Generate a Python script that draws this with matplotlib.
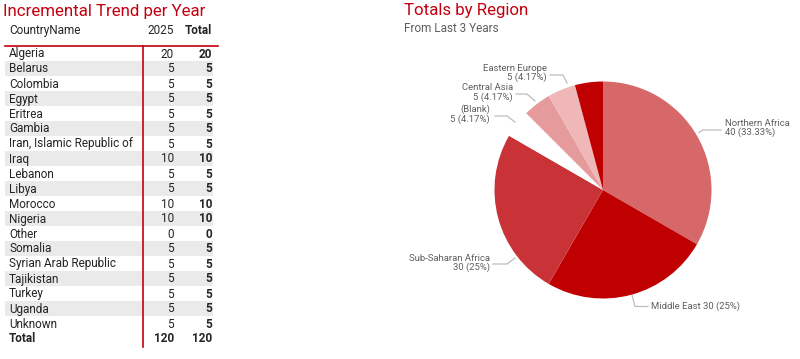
import matplotlib
matplotlib.use("Agg")
import matplotlib.pyplot as plt
from matplotlib import font_manager as fm
import numpy as np

# ---------------- data ----------------
countries = ["Algeria", "Belarus", "Colombia", "Egypt", "Eritrea", "Gambia",
             "Iran, Islamic Republic of", "Iraq", "Lebanon", "Libya", "Morocco",
             "Nigeria", "Other", "Somalia", "Syrian Arab Republic", "Tajikistan",
             "Turkey", "Uganda", "Unknown"]
values_2025 = [20, 5, 5, 5, 5, 5, 5, 10, 5, 5, 10, 10, 0, 5, 5, 5, 5, 5, 5]
totals = [20, 5, 5, 5, 5, 5, 5, 10, 5, 5, 10, 10, 0, 5, 5, 5, 5, 5, 5]
year_label = "2025"

regions = ["Northern Africa", "Middle East", "Sub-Saharan Africa", "(Blank)",
           "Central Asia", "Eastern Europe", "Other"]
region_values = [40, 30, 30, 5, 5, 5, 5]
region_colors = ["#D66869", "#C00000", "#C93236", "#FFFFFF", "#E59A9C", "#F0B7B9", "#C00000"]

# ---------------- fonts ----------------
def pick(cands):
    for c in cands:
        try:
            fm.findfont(fm.FontProperties(family=c), fallback_to_default=False)
            return c
        except Exception:
            pass
    return "DejaVu Sans"

FONT = pick(["DejaVu Sans Condensed", "Liberation Sans Narrow", "Roboto", "DejaVu Sans"])
plt.rcParams["font.family"] = [FONT, "DejaVu Sans"]

W, H = 800, 359
fig = plt.figure(figsize=(W / 100, H / 100), dpi=100)
ax = fig.add_axes([0, 0, 1, 1])
ax.set_xlim(0, W)
ax.set_ylim(H, 0)
ax.axis("off")

RED = "#C4000F"
TXT = "#252423"
GRAY = "#605E5C"
FS = 8.5

# ---------------- table ----------------
ax.text(3, 16, "Incremental Trend per Year", color=RED, fontsize=12.2, va="baseline", ha="left")
ax.text(9, 34, "CountryName", color=TXT, fontsize=FS, va="baseline")
ax.text(174, 34, year_label, color=TXT, fontsize=FS, va="baseline", ha="right")
ax.text(212, 34, "Total", color=TXT, fontsize=FS, va="baseline", ha="right", fontweight="bold")

row0, rh = 53.5, 15
for i, (c, v, t) in enumerate(zip(countries, values_2025, totals)):
    y = row0 + i * rh
    if i % 2 == 1:
        ax.add_patch(plt.Rectangle((5, y - rh / 2), 208, rh, color="#EAEAEA", lw=0, zorder=0))
    ax.text(9, y + 4, c, color=TXT, fontsize=FS, va="baseline")
    ax.text(174, y + 4, f"{v}", color=TXT, fontsize=FS, va="baseline", ha="right")
    ax.text(212, y + 4, f"{t}", color=TXT, fontsize=FS, va="baseline", ha="right", fontweight="bold")

yt = row0 + len(countries) * rh
ax.text(9, yt + 4, "Total", color=TXT, fontsize=FS, va="baseline", fontweight="bold")
ax.text(174, yt + 4, f"{sum(values_2025)}", color=TXT, fontsize=FS, va="baseline", ha="right", fontweight="bold")
ax.text(212, yt + 4, f"{sum(totals)}", color=TXT, fontsize=FS, va="baseline", ha="right", fontweight="bold")

ax.plot([5, 218], [46, 46], color=RED, lw=1.2)
ax.plot([142.5, 142.5], [46, 347], color=RED, lw=1.2)

# ---------------- pie ----------------
ax.text(404, 15, "Totals by Region", color=RED, fontsize=12.2, va="baseline", ha="left")
ax.text(404, 32.5, "From Last 3 Years", color=GRAY, fontsize=8.5, va="baseline", ha="left")

cx, cy, r = 603, 190, 108.5
pad = 130
pax = fig.add_axes([(cx - pad) / W, (H - cy - pad) / H, 2 * pad / W, 2 * pad / H])
pax.pie(region_values, colors=region_colors, startangle=90, counterclock=False,
        radius=1.0, wedgeprops=dict(linewidth=0))
pax.set_xlim(-pad / r, pad / r)
pax.set_ylim(-pad / r, pad / r)
pax.axis("off")

total = sum(region_values)
# label layout: (text x, text y, ha, leader line points)
layout = {
    "Northern Africa": (725, 128, "left", [(699, 132.5), (703, 130), (721, 130)]),
    "Middle East": (651, 306.5, "left", [(632, 295), (635, 306.5), (648, 306.5)]),
    "Sub-Saharan Africa": (490, 263, "right", [(515, 258), (507, 264), (493, 264)]),
    "(Blank)": (490, 114, "right", [(495, 116), (507, 116), (515, 122)]),
    "Central Asia": (513, 92.5, "right", [(516, 94), (527, 94), (535, 101)]),
    "Eastern Europe": (547, 73, "right", [(550, 75), (563, 75), (567, 83)]),
}
for name, val in zip(regions, region_values):
    if name not in layout:
        continue
    tx, ty, ha, pts = layout[name]
    pct = val / total * 100
    pct_s = f"{pct:.2f}".rstrip("0").rstrip(".")
    xs, ys = zip(*pts)
    ax.plot(xs, ys, color="#BDBDBD", lw=0.9)
    if name == "Middle East":
        ax.text(tx, ty, f"{name} {val} ({pct_s}%)", color=GRAY, fontsize=6.8, va="center", ha=ha)
    else:
        ax.text(tx, ty, f"{name}\n{val} ({pct_s}%)", color=GRAY, fontsize=6.8, va="center",
                ha=ha, multialignment=ha, linespacing=1.05)

fig.savefig("out.png", dpi=100)
